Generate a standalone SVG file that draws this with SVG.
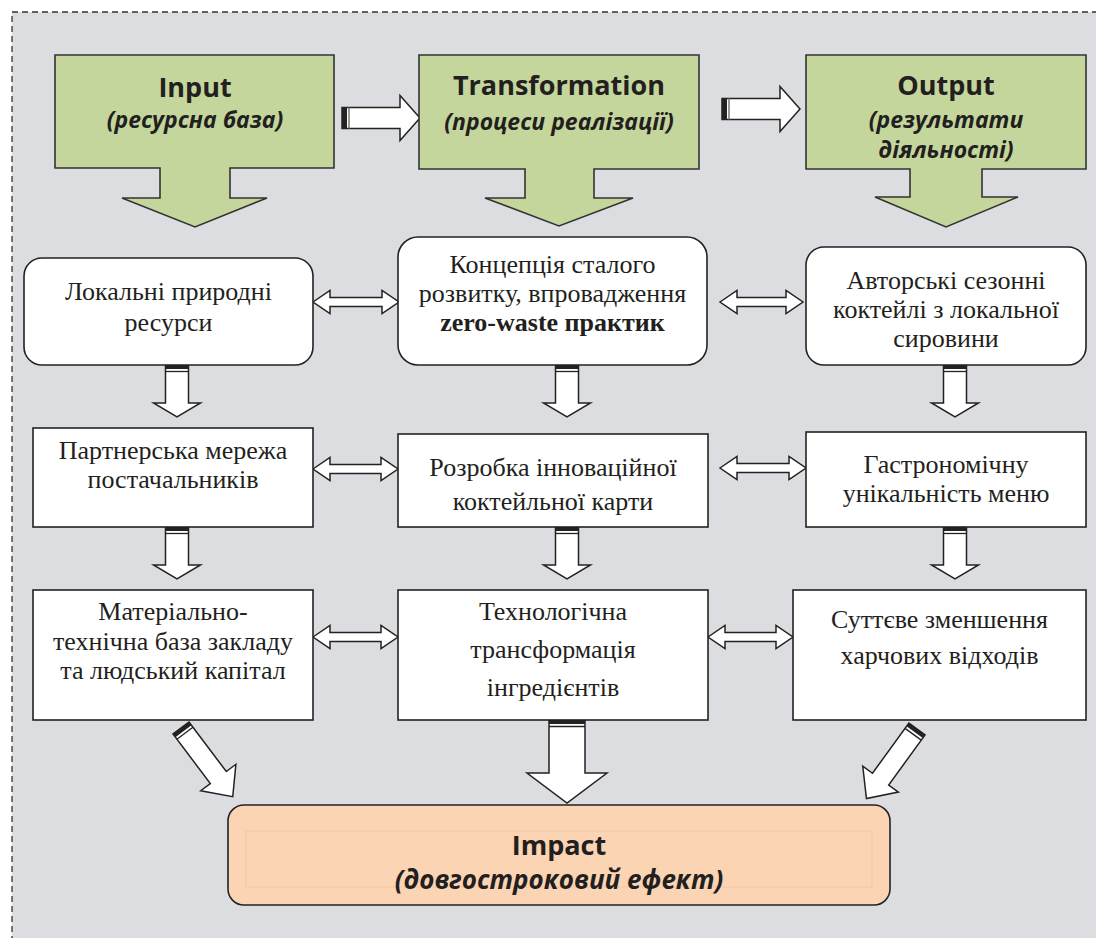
<svg xmlns="http://www.w3.org/2000/svg" width="1096" height="938" viewBox="0 0 1096 938">
<defs>
<style>
.hdr{fill:#c4d69b;stroke:#333;stroke-width:1.6}
.node{fill:#fff;stroke:#222;stroke-width:1.6}
.arr{fill:#fff;stroke:#222;stroke-width:1.5;stroke-linejoin:miter}
.stub{fill:#222}
.h1{font-family:"Open Sans","Noto Sans",sans-serif;font-weight:bold;font-size:27px;fill:#231f20;text-anchor:middle}
.h2{font-family:"Open Sans","Noto Sans",sans-serif;font-weight:bold;font-style:italic;font-size:23px;fill:#231f20;text-anchor:middle}
.h3{font-size:26px}
.t{font-family:"Liberation Serif","Times New Roman",serif;font-size:26px;fill:#231f20;text-anchor:middle}
.tb{font-weight:bold}
</style>
<g id="darr">
<path class="arr" d="M-11.5,0 H11.5 V38 H23.5 L0,52 L-23.5,38 H-11.5 Z"/>
<rect class="stub" x="-11.5" y="0" width="23" height="4"/>
<line x1="-11.5" y1="6.5" x2="11.5" y2="6.5" stroke="#222" stroke-width="1.3"/>
</g>
<g id="harr">
<path class="arr" d="M0,-10.5 H58 V-22.5 L78,0 L58,22.5 V10.5 H0 Z"/>
<rect class="stub" x="0" y="-10.5" width="5" height="21"/>
<line x1="7" y1="-10.5" x2="7" y2="10.5" stroke="#777" stroke-width="1.5"/>
</g>
<g id="diag">
<path class="arr" d="M0,-10 H62 V-22 L86,0 L62,22 V10 H0 Z"/>
<rect class="stub" x="0" y="-10" width="4" height="20"/>
<line x1="6.5" y1="-10" x2="6.5" y2="10" stroke="#222" stroke-width="1.3"/>
</g>
</defs>

<rect x="12" y="12" width="1100" height="940" fill="#dcdde0" stroke="#333" stroke-width="1.3" stroke-dasharray="6 4"/>

<g id="connectors">
<use href="#harr" x="342" y="118"/>
<use href="#harr" x="722" y="109"/>
<path class="arr" d="M313,302 L330,290.5 V297.5 H382 V290.5 L399,302 L382,313.5 V306.5 H330 V313.5 Z"/>
<path class="arr" d="M720,302 L737,290.5 V297.5 H786 V290.5 L803,302 L786,313.5 V306.5 H737 V313.5 Z"/>
<path class="arr" d="M313,469 L330,457.5 V464.5 H381 V457.5 L398,469 L381,480.5 V473.5 H330 V480.5 Z"/>
<path class="arr" d="M720,468 L737,456.5 V463.5 H789 V456.5 L806,468 L789,479.5 V472.5 H737 V479.5 Z"/>
<path class="arr" d="M313,637 L330,625.5 V632.5 H381 V625.5 L398,637 L381,648.5 V641.5 H330 V648.5 Z"/>
<path class="arr" d="M708,637 L725,625.5 V632.5 H776 V625.5 L793,637 L776,648.5 V641.5 H725 V648.5 Z"/>
<use href="#darr" x="177" y="365"/>
<use href="#darr" x="567" y="365"/>
<use href="#darr" x="955" y="365"/>
<use href="#darr" x="177" y="527"/>
<use href="#darr" x="567" y="527"/>
<use href="#darr" x="955" y="527"/>
<use href="#diag" transform="translate(181,728) rotate(53)"/>
<use href="#diag" transform="translate(917,729) rotate(126)"/>
<g transform="translate(567,720)">
<path class="arr" d="M-18,0 H18 V53 H40 L0,83 L-40,53 H-18 Z"/>
<rect class="stub" x="-18" y="0" width="36" height="4"/>
<line x1="-18" y1="6.5" x2="18" y2="6.5" stroke="#222" stroke-width="1.3"/>
</g>
</g>

<g id="input">
<path class="hdr" d="M55,55 H334 V168 H230 V198 H267 L195,227 L122,198 H160 V168 H55 Z"/>
<text class="h1" x="195" y="97">Input</text>
<text class="h2" x="195" y="128">(ресурсна база)</text>
</g>
<g id="transformation">
<path class="hdr" d="M419,55 H699 V169 H594 V198 H633 L559,226 L485,198 H525 V169 H419 Z"/>
<text class="h1" x="559" y="95">Transformation</text>
<text class="h2" x="559" y="130">(процеси реалізації)</text>
</g>
<g id="output">
<path class="hdr" d="M806,55 H1086 V169 H982 V197 H1018 L946,227 L875,197 H910 V169 H806 Z"/>
<text class="h1" x="946" y="95">Output</text>
<text class="h2" x="946" y="128">(результати</text>
<text class="h2" x="946" y="158">діяльності)</text>
</g>

<g id="n1">
<rect class="node" x="24" y="258" width="289" height="107" rx="18"/>
<text class="t" x="168.5" y="300">Локальні природні</text>
<text class="t" x="168.5" y="331">ресурси</text>
</g>
<g id="n2">
<rect class="node" x="398" y="237" width="309" height="128" rx="20"/>
<text class="t" x="552.5" y="273">Концепція сталого</text>
<text class="t" x="552.5" y="302">розвитку, впровадження</text>
<text class="t tb" x="552.5" y="331">zero-waste практик</text>
</g>
<g id="n3">
<rect class="node" x="806" y="247" width="280" height="118" rx="18"/>
<text class="t" x="946" y="289">Авторські сезонні</text>
<text class="t" x="946" y="318">коктейлі з локальної</text>
<text class="t" x="946" y="347">сировини</text>
</g>
<g id="n4">
<rect class="node" x="33" y="428" width="280" height="99"/>
<text class="t" x="173" y="459">Партнерська мережа</text>
<text class="t" x="173" y="488">постачальників</text>
</g>
<g id="n5">
<rect class="node" x="398" y="434" width="310" height="93"/>
<text class="t" x="553" y="476">Розробка інноваційної</text>
<text class="t" x="553" y="510">коктейльної карти</text>
</g>
<g id="n6">
<rect class="node" x="806" y="432" width="280" height="95"/>
<text class="t" x="946" y="473">Гастрономічну</text>
<text class="t" x="946" y="502">унікальність меню</text>
</g>
<g id="n7">
<rect class="node" x="33" y="590" width="280" height="130"/>
<text class="t" x="173" y="620">Матеріально-</text>
<text class="t" x="173" y="650">технічна база закладу</text>
<text class="t" x="173" y="679">та людський капітал</text>
</g>
<g id="n8">
<rect class="node" x="398" y="590" width="310" height="130"/>
<text class="t" x="553" y="620">Технологічна</text>
<text class="t" x="553" y="658">трансформація</text>
<text class="t" x="553" y="696">інгредієнтів</text>
</g>
<g id="n9">
<rect class="node" x="793" y="590" width="293" height="130"/>
<text class="t" x="939.5" y="628">Суттєве зменшення</text>
<text class="t" x="939.5" y="664">харчових відходів</text>
</g>

<g id="impact">
<rect x="228" y="805" width="662" height="100" rx="16" fill="#fbd4b4" stroke="#222" stroke-width="1.6"/>
<rect x="246" y="831" width="626" height="56" fill="none" stroke="#f3c4a0" stroke-width="0.8"/>
<text class="h1" x="559" y="855">Impact</text>
<text class="h2 h3" x="559" y="889">(довгостроковий ефект)</text>
</g>
</svg>
